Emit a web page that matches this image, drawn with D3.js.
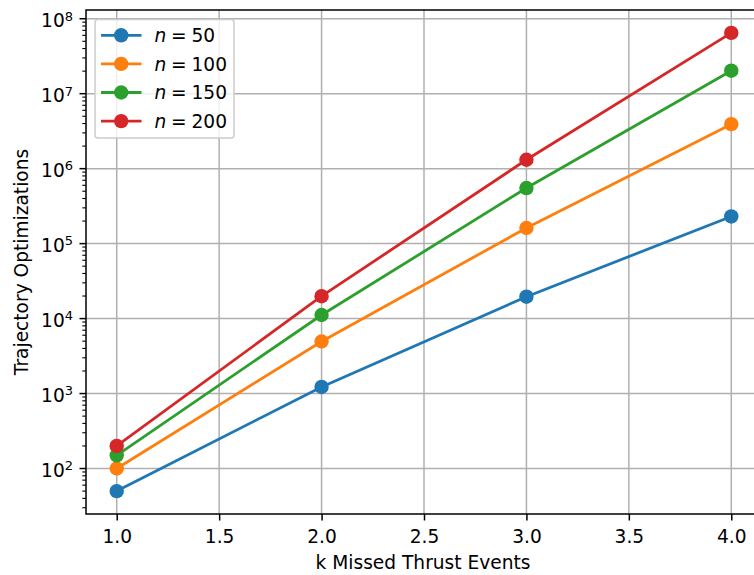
<!DOCTYPE html>
<html>
<head>
<meta charset="utf-8">
<script src="https://cdn.jsdelivr.net/npm/d3@7"></script>
<style>
  body { margin: 0; background: #fff; }
  svg text { font-family: "DejaVu Sans"; }
</style>
</head>
<body>
<script>
// chart data
var kValues = [1, 2, 3, 4];
var seriesNames = ["n = 50", "n = 100", "n = 150", "n = 200"];
var nLabels = ["50", "100", "150", "200"];
var n50 = [50, 1225, 19600, 230300];
var n100 = [100, 4950, 161700, 3921225];
var n150 = [150, 11175, 551300, 20260275];
var n200 = [200, 19900, 1313400, 64684950];
var colors = ["#1f77b4", "#ff7f0e", "#2ca02c", "#d62728"];
var xTicks = [1.0, 1.5, 2.0, 2.5, 3.0, 3.5, 4.0];
var yTickExp = [2, 3, 4, 5, 6, 7, 8];

var series = [n50, n100, n150, n200];
var fs = 18.6;

// figure size and plot area
var W = 754, H = 575;
var margin = {top: 10, right: -8, bottom: 61, left: 86};
var width = W - margin.left - margin.right,
    height = H - margin.top - margin.bottom;

var svg = d3.select("body").append("svg")
    .attr("width", W)
    .attr("height", H)
    .attr("font-family", "DejaVu Sans");

var g = svg.append("g")
    .attr("transform", "translate(" + margin.left + "," + margin.top + ")");

// scales with matplotlib-like 5% margins
var xPad = (4 - 1) * 0.05;
var x = d3.scaleLinear().domain([1 - xPad, 4 + xPad]).range([0, width]);

var allVals = d3.merge(series);
var lmin = Math.log10(d3.min(allVals)), lmax = Math.log10(d3.max(allVals));
var lpad = (lmax - lmin) * 0.05;
var y = d3.scaleLog()
    .domain([Math.pow(10, lmin - lpad), Math.pow(10, lmax + lpad)])
    .range([height, 0]);

// grid
var gridColor = "#b0b0b0";
g.selectAll(".gx").data(xTicks).enter().append("line")
    .attr("x1", function(d) { return x(d); })
    .attr("x2", function(d) { return x(d); })
    .attr("y1", 0).attr("y2", height)
    .style("stroke", gridColor).style("stroke-width", 1.5);

g.selectAll(".gy").data(yTickExp).enter().append("line")
    .attr("x1", 0).attr("x2", width)
    .attr("y1", function(d) { return y(Math.pow(10, d)); })
    .attr("y2", function(d) { return y(Math.pow(10, d)); })
    .style("stroke", gridColor).style("stroke-width", 1.5);

// x axis
var xAxis = g.append("g")
    .attr("transform", "translate(0," + height + ")")
    .call(d3.axisBottom(x).tickValues(xTicks).tickFormat(d3.format(".1f"))
        .tickSize(6.5));
xAxis.attr("font-family", "DejaVu Sans").attr("font-size", fs);
xAxis.select(".domain").remove();
xAxis.selectAll("line").style("stroke", "#000").style("stroke-width", 1.5);
xAxis.selectAll("text").style("fill", "#000").attr("y", 29.3).attr("dy", 0);

// y axis: minor ticks
var minorVals = [];
for (var e = 1; e <= 8; e++) {
  for (var m = 2; m <= 9; m++) {
    var v = m * Math.pow(10, e);
    if (v >= y.domain()[0] && v <= y.domain()[1]) minorVals.push(v);
  }
}
g.selectAll(".minor").data(minorVals).enter().append("line")
    .attr("x1", -3.7).attr("x2", 0)
    .attr("y1", function(d) { return y(d); })
    .attr("y2", function(d) { return y(d); })
    .style("stroke", "#000").style("stroke-width", 1.1);

// y axis: major ticks and labels
var yMajor = g.selectAll(".ymaj").data(yTickExp).enter().append("g")
    .attr("transform", function(d) { return "translate(0," + y(Math.pow(10, d)) + ")"; });
yMajor.append("line")
    .attr("x1", -6.5).attr("x2", 0)
    .style("stroke", "#000").style("stroke-width", 1.5);
var yLab = yMajor.append("text")
    .attr("x", -13)
    .attr("y", 8.3)
    .attr("text-anchor", "end")
    .attr("font-size", fs);
yLab.append("tspan").text("10");
yLab.append("tspan")
    .attr("dy", -6.5)
    .attr("font-size", fs * 0.7)
    .text(function(d) { return d; });

// lines and markers
var line = d3.line()
    .x(function(d, i) { return x(kValues[i]); })
    .y(function(d) { return y(d); });

series.forEach(function(s, i) {
  g.append("path")
      .datum(s)
      .attr("d", line)
      .style("fill", "none")
      .style("stroke", colors[i])
      .style("stroke-width", 2.8);
  g.selectAll(".pt" + i).data(s).enter().append("circle")
      .attr("cx", function(d, j) { return x(kValues[j]); })
      .attr("cy", function(d) { return y(d); })
      .attr("r", 7.2)
      .style("fill", colors[i]);
});

// spines
g.append("rect")
    .attr("width", width).attr("height", height)
    .style("fill", "none").style("stroke", "#000").style("stroke-width", 1.5);

// axis labels
svg.append("text")
    .attr("x", margin.left + width / 2 - 1)
    .attr("y", 569.3)
    .attr("text-anchor", "middle")
    .attr("font-size", fs)
    .text("k Missed Thrust Events");

svg.append("text")
    .attr("transform", "translate(27.5," + (margin.top + height / 2) + ") rotate(-90)")
    .attr("text-anchor", "middle")
    .attr("font-size", fs)
    .text("Trajectory Optimizations");

// legend
var legend = svg.append("g").attr("transform", "translate(95,19.5)");
legend.append("rect")
    .attr("width", 139).attr("height", 118.5)
    .attr("rx", 3)
    .style("fill", "#fff").style("fill-opacity", 0.8)
    .style("stroke", "#cccccc").style("stroke-width", 1.5);

var items = legend.selectAll(".item").data(seriesNames).enter().append("g")
    .attr("transform", function(d, i) { return "translate(0," + (15.8 + i * 28.6) + ")"; });
items.append("line")
    .attr("x1", 6).attr("x2", 46.5)
    .style("stroke", function(d, i) { return colors[i]; })
    .style("stroke-width", 2.8);
items.append("circle")
    .attr("cx", 26.2).attr("r", 7.2)
    .style("fill", function(d, i) { return colors[i]; });
var lt = items.append("text")
    .attr("x", 59.5)
    .attr("dy", "0.36em")
    .attr("font-size", fs);
lt.append("tspan").style("font-style", "italic").text("n");
lt.append("tspan").attr("dx", 4.8).text("=");
lt.append("tspan").attr("dx", 4.8).text(function(d, i) { return nLabels[i]; });
</script>
</body>
</html>
